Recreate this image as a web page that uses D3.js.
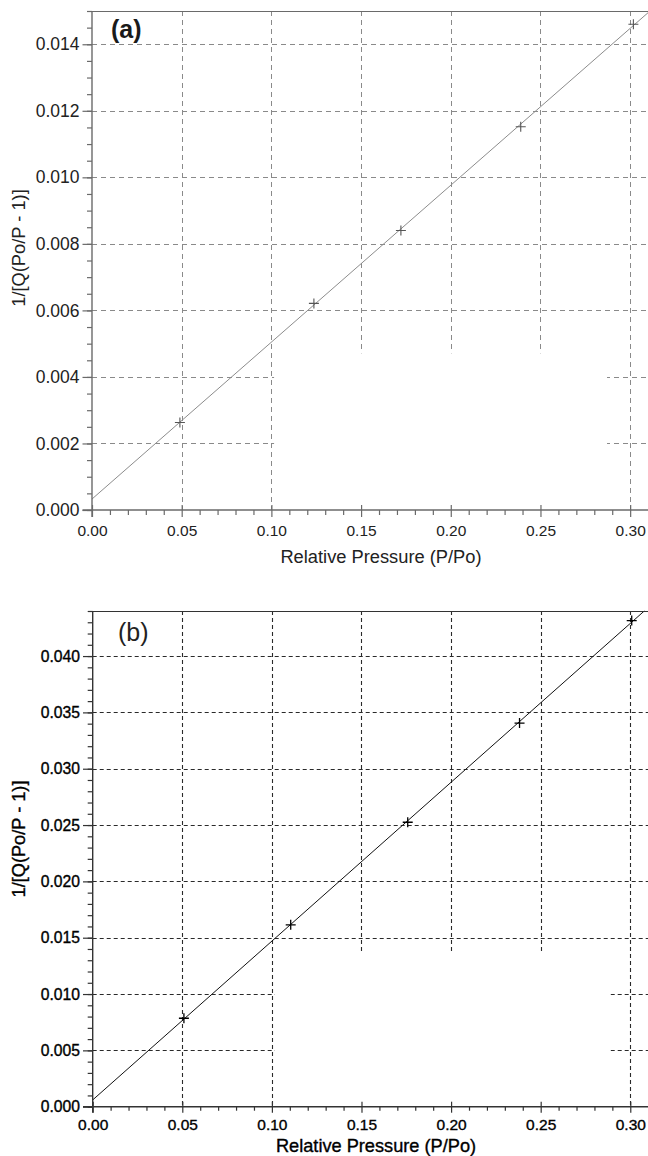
<!DOCTYPE html>
<html>
<head>
<meta charset="utf-8">
<script src="https://cdn.jsdelivr.net/npm/d3@7/dist/d3.min.js"></script>
<style>
  html, body { margin: 0; padding: 0; background: #fff; }
  svg { display: block; }
  text { font-family: "Liberation Sans", Arial, Helvetica, sans-serif; }
</style>
</head>
<body>
<svg id="chart" width="648" height="1156"></svg>
<script>
// ---------- data ----------
// Panel (a)
const xA = [0.049, 0.1237, 0.1722, 0.239, 0.3018];
const yA = [0.00263, 0.00621, 0.0084, 0.01152, 0.01460];
const fitA = [[0, 0.00033], [0.31, 0.01495]];
const yTicksA = [0.000, 0.002, 0.004, 0.006, 0.008, 0.010, 0.012, 0.014];
// Panel (b)
const xB = [0.0509, 0.1105, 0.1758, 0.2382, 0.3008];
const yB = [0.00785, 0.01614, 0.02525, 0.03405, 0.04315];
const fitB = [[0, 0.0006], [0.3078, 0.0440]];
const yTicksB = [0.000, 0.005, 0.010, 0.015, 0.020, 0.025, 0.030, 0.035, 0.040];
// shared
const xTicks = [0.00, 0.05, 0.10, 0.15, 0.20, 0.25, 0.30];
const xLabel = "Relative Pressure (P/Po)";
const yLabel = "1/[Q(Po/P - 1)]";

const svg = d3.select("#chart");

function panel(cfg) {
  const x = d3.scaleLinear().domain([0, 0.31]).range([cfg.left, cfg.right]);
  const y = d3.scaleLinear().domain([0, cfg.yMax]).range([cfg.bottom, cfg.top]);
  const g = svg.append("g");

  // grid
  const grid = g.append("g").attr("stroke", cfg.gridColor).attr("stroke-width", cfg.gridWidth)
    .attr("stroke-dasharray", cfg.dash).attr("fill", "none");
  grid.selectAll("line.h").data(cfg.yTicks.filter(d => d > 0)).join("line")
    .attr("x1", cfg.left).attr("x2", cfg.right)
    .attr("y1", d => Math.round(y(d)) + 0.5).attr("y2", d => Math.round(y(d)) + 0.5);
  grid.selectAll("line.v").data(xTicks.filter(d => d > 0)).join("line")
    .attr("x1", d => Math.round(x(d)) + 0.5).attr("x2", d => Math.round(x(d)) + 0.5)
    .attr("y1", cfg.top).attr("y2", cfg.bottom);

  // blanked region (erased legend area)
  g.append("rect")
    .attr("x", x(cfg.blank[0])).attr("width", x(cfg.blank[1]) - x(cfg.blank[0]))
    .attr("y", y(cfg.blank[2])).attr("height", cfg.bottom - y(cfg.blank[2]))
    .attr("fill", "#fff");

  // fit line
  g.append("line")
    .attr("x1", x(cfg.fit[0][0])).attr("y1", y(cfg.fit[0][1]))
    .attr("x2", x(cfg.fit[1][0])).attr("y2", y(cfg.fit[1][1]))
    .attr("stroke", cfg.lineColor).attr("stroke-width", cfg.lineWidth);

  // markers (+)
  const pts = cfg.xs.map((v, i) => [v, cfg.ys[i]]);
  const m = g.append("g").attr("stroke", cfg.markColor).attr("stroke-width", cfg.markWidth);
  m.selectAll("path").data(pts).join("path")
    .attr("d", d => {
      const px = x(d[0]), py = y(d[1]), s = 5;
      return `M${px - s},${py}H${px + s}M${px},${py - s}V${py + s}`;
    });

  // top border
  g.append("line").attr("x1", cfg.left).attr("x2", cfg.right)
    .attr("y1", cfg.top + 0.5).attr("y2", cfg.top + 0.5)
    .attr("stroke", cfg.axisColor).attr("stroke-width", 1.2);

  // x axis
  const xMinor = d3.range(0, 31).map(i => i / 100).filter(v => Math.round(v * 100) % 5 !== 0);
  const xa = g.append("g").attr("transform", `translate(0,${cfg.bottom})`);
  xa.append("g").call(d3.axisBottom(x).tickValues(xTicks).tickFormat(d3.format(".2f"))
      .tickSize(cfg.xMajor).tickPadding(cfg.xPad))
    .call(s => s.select(".domain").remove());
  xa.append("g").call(d3.axisBottom(x).tickValues(xMinor).tickFormat("").tickSize(cfg.xMinorLen))
    .call(s => s.select(".domain").remove());
  xa.append("g").call(d3.axisTop(x).tickValues(xTicks).tickFormat("").tickSize(5))
    .call(s => s.select(".domain").remove());
  xa.selectAll("line").attr("stroke", cfg.axisColor).attr("stroke-width", 1.2);
  xa.selectAll("text").attr("font-size", cfg.xFont).attr("fill", cfg.textColor)
    .attr("stroke", cfg.textColor).attr("stroke-width", cfg.textStroke)
    .attr("font-family", '"Liberation Sans", Arial, sans-serif');

  // y axis
  const yMinor = d3.range(0, Math.round(cfg.yMax / cfg.yMinorStep) + 1)
    .map(i => +(i * cfg.yMinorStep).toFixed(5));
  const ya = g.append("g").attr("transform", `translate(${cfg.left},0)`);
  ya.append("g").call(d3.axisLeft(y).tickValues(cfg.yTicks).tickFormat(d3.format(".3f"))
      .tickSize(cfg.yMajor).tickPadding(3))
    .call(s => s.select(".domain").remove());
  ya.append("g").call(d3.axisLeft(y).tickValues(yMinor).tickFormat("").tickSize(5))
    .call(s => s.select(".domain").remove());
  ya.selectAll("line").attr("stroke", cfg.axisColor).attr("stroke-width", 1.2);
  ya.selectAll("text").attr("font-size", cfg.yFont).attr("fill", cfg.textColor)
    .attr("stroke", cfg.textColor).attr("stroke-width", cfg.textStroke)
    .attr("font-family", '"Liberation Sans", Arial, sans-serif');

  // axis lines
  g.append("line").attr("x1", cfg.left).attr("x2", cfg.left)
    .attr("y1", cfg.top).attr("y2", cfg.bottom + cfg.xMajor)
    .attr("stroke", cfg.axisColor).attr("stroke-width", 1.4);
  g.append("line").attr("x1", cfg.left - cfg.yMajor).attr("x2", cfg.right)
    .attr("y1", cfg.bottom).attr("y2", cfg.bottom)
    .attr("stroke", cfg.axisColor).attr("stroke-width", 1.4);

  // titles
  g.append("text").attr("x", cfg.xTitleX).attr("y", cfg.xTitleY)
    .attr("text-anchor", "middle").attr("font-size", cfg.titleFont)
    .attr("fill", cfg.textColor).attr("stroke", cfg.textColor).attr("stroke-width", cfg.textStroke)
    .text(xLabel);
  g.append("text")
    .attr("transform", `translate(${cfg.yTitleX},${cfg.yTitleY}) rotate(-90)`)
    .attr("text-anchor", "middle").attr("font-size", cfg.titleFont)
    .attr("fill", cfg.textColor).attr("stroke", cfg.textColor).attr("stroke-width", cfg.textStroke)
    .text(yLabel);

  // panel tag
  g.append("text").attr("x", cfg.tagX).attr("y", cfg.tagY)
    .attr("font-size", 25).attr("font-weight", cfg.tagWeight)
    .attr("fill", cfg.tagColor).text(cfg.tag);
}

panel({
  xs: xA, ys: yA, fit: fitA, yTicks: yTicksA, yMax: 0.015, yMinorStep: 0.0005,
  left: 92, right: 648.1, top: 11, bottom: 510,
  blank: [0.1015, 0.2871, 0.00471],
  gridColor: "#8a8a8a", gridWidth: 1, dash: "5,4",
  lineColor: "#8c8c8c", lineWidth: 1,
  markColor: "#555", markWidth: 1.1,
  axisColor: "#6a6a6a", textColor: "#222", textStroke: 0,
  xMajor: 7, xMinorLen: 5, xPad: 8, xFont: 15.5,
  yMajor: 9.5, yFont: 17.5,
  titleFont: 18.3, xTitleX: 381, xTitleY: 563, yTitleX: 25, yTitleY: 248,
  tag: "(a)", tagX: 111, tagY: 38, tagWeight: "bold", tagColor: "#1a1a1a"
});

panel({
  xs: xB, ys: yB, fit: fitB, yTicks: yTicksB, yMax: 0.044, yMinorStep: 0.001,
  left: 92.7, right: 648.2, top: 611, bottom: 1106.7,
  blank: [0.1016, 0.2889, 0.01374],
  gridColor: "#2a2a2a", gridWidth: 1.1, dash: "4,3",
  lineColor: "#111", lineWidth: 1,
  markColor: "#000", markWidth: 1.3,
  axisColor: "#333", textColor: "#000", textStroke: 0.35,
  xMajor: 6, xMinorLen: 4, xPad: 6.5, xFont: 15.5,
  yMajor: 9.7, yFont: 15.7,
  titleFont: 18.2, xTitleX: 376, xTitleY: 1152, yTitleX: 25, yTitleY: 839,
  tag: "(b)", tagX: 118, tagY: 641, tagWeight: "normal", tagColor: "#222"
});
</script>
</body>
</html>
